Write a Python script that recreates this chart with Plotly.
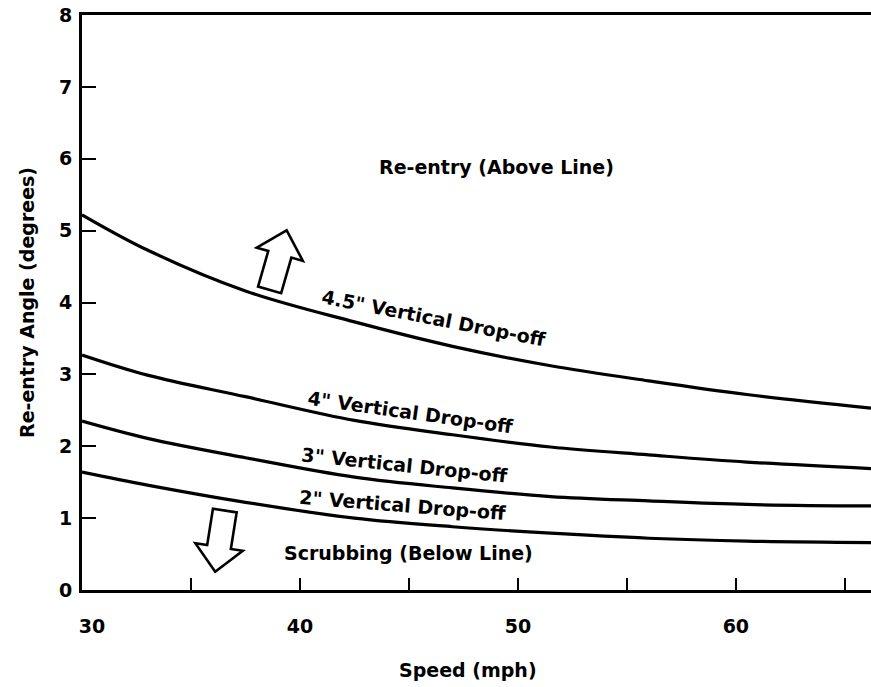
import math
import plotly.graph_objects as go

# Data
speed_mph = [30, 33, 37.5, 42.5, 47, 51.5, 56, 60.5, 66.2]
drop_45in = [5.22, 4.73, 4.16, 3.73, 3.39, 3.12, 2.91, 2.72, 2.53]
drop_4in = [3.27, 2.99, 2.69, 2.36, 2.16, 1.99, 1.88, 1.78, 1.69]
drop_3in = [2.35, 2.11, 1.84, 1.57, 1.42, 1.30, 1.24, 1.19, 1.17]
drop_2in = [1.64, 1.46, 1.22, 1.00, 0.88, 0.79, 0.72, 0.68, 0.66]

x_tick_vals = [30, 35, 40, 45, 50, 55, 60, 65]
x_tick_text = ["\u00a0\u00a0\u00a030", "", "40", "", "50", "", "60", ""]
y_tick_vals = [0, 1, 2, 3, 4, 5, 6, 7, 8]

curve_labels = ['4.5" Vertical Drop-off', '4" Vertical Drop-off',
                '3" Vertical Drop-off', '2" Vertical Drop-off']

FONT = "DejaVu Sans"
TXT = dict(family=FONT, size=19, color="black", weight="bold")

fig = go.Figure()
for ys in [drop_45in, drop_4in, drop_3in, drop_2in]:
    fig.add_trace(go.Scatter(x=speed_mph, y=ys, mode="lines",
                             line=dict(color="black", width=3.2, shape="spline", smoothing=1.0),
                             showlegend=False, hoverinfo="skip"))

ann = []
label_pos = [(46.15, 3.78, 11), (45.05, 2.48, 8), (44.8, 1.74, 6), (44.7, 1.18, 4.5)]
for txt, (x, y, ang) in zip(curve_labels, label_pos):
    ann.append(dict(x=x, y=y, xref="x", yref="y", text=txt, showarrow=False,
                    textangle=ang, font=TXT))
ann.append(dict(x=49.0, y=5.88, xref="x", yref="y", text="Re-entry (Above Line)",
                showarrow=False, font=TXT))
ann.append(dict(x=45.0, y=0.51, xref="x", yref="y", text="Scrubbing (Below Line)",
                showarrow=False, font=TXT))
ann.append(dict(x=47.7, y=-0.139, xref="x", yref="paper", yanchor="middle",
                text="Speed (mph)", showarrow=False, font=TXT))


# hollow block arrows: pixel-sized outline anchored at a data position
def arrow_path(direction, angle_deg):
    L, H, W, S = 31, 25, 24, 12
    pts = [(0, L), (W, L - H), (S, L - H), (S, -L), (-S, -L), (-S, L - H), (-W, L - H)]
    if direction == "down":
        pts = [(x, -y) for x, y in pts]
    a = math.radians(angle_deg)
    rot = [(x * math.cos(a) + y * math.sin(a), -x * math.sin(a) + y * math.cos(a)) for x, y in pts]
    return "M " + " L ".join(f"{x:.1f},{y:.1f}" for x, y in rot) + " Z"


shapes = [
    dict(type="path", xref="x", yref="y", xsizemode="pixel", ysizemode="pixel",
         xanchor=39.0, yanchor=4.59, path=arrow_path("up", 16),
         line=dict(color="black", width=2.6), fillcolor="white"),
    dict(type="path", xref="x", yref="y", xsizemode="pixel", ysizemode="pixel",
         xanchor=36.33, yanchor=0.68, path=arrow_path("down", 9),
         line=dict(color="black", width=2.6), fillcolor="white"),
]

fig.update_layout(
    width=871, height=687,
    margin=dict(l=82, r=0, t=15, b=97),
    paper_bgcolor="white", plot_bgcolor="white",
    annotations=ann, shapes=shapes,
    xaxis=dict(range=[30, 66.2], tickvals=x_tick_vals, ticktext=x_tick_text,
               ticks="inside", ticklen=12, tickwidth=2, tickcolor="black",
               showline=True, linecolor="black", linewidth=3, mirror=True,
               showgrid=False, zeroline=False, ticklabelstandoff=17, automargin=False,
               tickfont=dict(family=FONT, size=19, color="black", weight="bold")),
    yaxis=dict(range=[0, 8], tickvals=y_tick_vals,
               ticks="inside", ticklen=14, tickwidth=2, tickcolor="black",
               showline=True, linecolor="black", linewidth=3,
               showgrid=False, zeroline=False, ticklabelstandoff=3, automargin=False,
               title=dict(text="Re-entry Angle (degrees)", standoff=20, font=TXT),
               tickfont=dict(family=FONT, size=19, color="black", weight="bold")),
)

fig.write_html("out.html", config={"displayModeBar": False},
               post_script="document.body.style.margin='0';document.body.style.overflow='hidden';")
